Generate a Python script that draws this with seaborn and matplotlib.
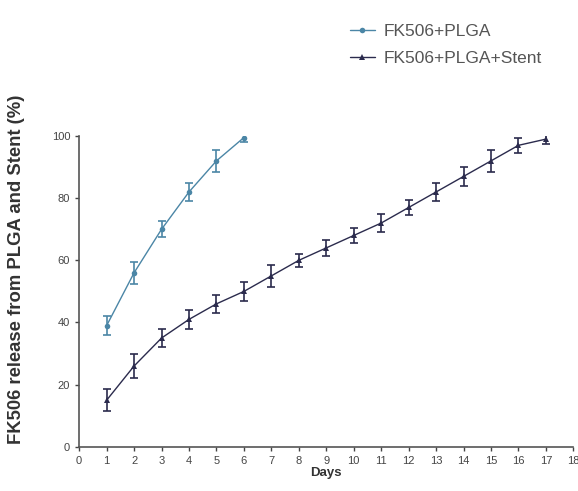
import pandas as pd
import matplotlib
matplotlib.use("Agg")
import matplotlib.pyplot as plt
import seaborn as sns

# Values (mean and error bar half-width)
plga_days = [1, 2, 3, 4, 5, 6]
plga_mean = [39, 56, 70, 82, 92, 99.5]
plga_err = [3, 3.5, 2.5, 3, 3.5, 1.5]

stent_days = [1, 2, 3, 4, 5, 6, 7, 8, 9, 10, 11, 12, 13, 14, 15, 16, 17]
stent_mean = [15, 26, 35, 41, 46, 50, 55, 60, 64, 68, 72, 77, 82, 87, 92, 97, 99]
stent_err = [3.5, 4, 3, 3, 3, 3, 3.5, 2, 2.5, 2.5, 3, 2.5, 3, 3, 3.5, 2.5, 1.5]

x_ticks = list(range(0, 19))
y_ticks = [0, 20, 40, 60, 80, 100]

PLGA_COLOR = "#4b86a6"
STENT_COLOR = "#2b2b4d"


def main():
    sns.set_style("ticks")
    plt.rcParams['font.family'] = ['Liberation Sans', 'DejaVu Sans']

    df_plga = pd.DataFrame({'Days': plga_days, 'Release': plga_mean})
    df_stent = pd.DataFrame({'Days': stent_days, 'Release': stent_mean})

    fig = plt.figure(figsize=(5.78, 4.91), dpi=100)
    ax = fig.add_axes([0.137, 0.09, 0.855, 0.633])

    sns.lineplot(data=df_plga, x='Days', y='Release', ax=ax, color=PLGA_COLOR,
                 marker='o', markersize=4, linewidth=1, markeredgewidth=0,
                 label='FK506+PLGA')
    sns.lineplot(data=df_stent, x='Days', y='Release', ax=ax, color=STENT_COLOR,
                 marker='^', markersize=4.5, linewidth=1, markeredgewidth=0,
                 label='FK506+PLGA+Stent')

    # Error bars
    ax.errorbar(plga_days, plga_mean, yerr=plga_err, fmt='none',
                ecolor=PLGA_COLOR, elinewidth=1.2, capsize=3, capthick=1.2)
    ax.errorbar(stent_days, stent_mean, yerr=stent_err, fmt='none',
                ecolor=STENT_COLOR, elinewidth=1.2, capsize=3, capthick=1.2)

    ax.set_xlim(0, 18)
    ax.set_ylim(0, 100)
    ax.set_xticks(x_ticks)
    ax.set_yticks(y_ticks)
    ax.tick_params(labelsize=8, colors='#444444', length=3, width=1)
    sns.despine(ax=ax)
    for s in ['left', 'bottom']:
        ax.spines[s].set_color('#555555')
        ax.spines[s].set_linewidth(1.2)

    ax.set_xlabel('Days', fontsize=9.5, fontweight='bold', color='#333333', labelpad=1)
    ax.set_ylabel('FK506 release from PLGA and Stent (%)', fontsize=13.3,
                  fontweight='bold', color='#333333')
    ax.yaxis.set_label_coords(-0.11, 0.57)

    ax.legend(loc='upper left', bbox_to_anchor=(0.517, 1.41), frameon=False,
              fontsize=12.5, handlelength=1.4, handletextpad=0.5,
              labelspacing=0.65, labelcolor='#555555')

    fig.savefig('out.png', dpi=100)


if __name__ == "__main__":
    main()
